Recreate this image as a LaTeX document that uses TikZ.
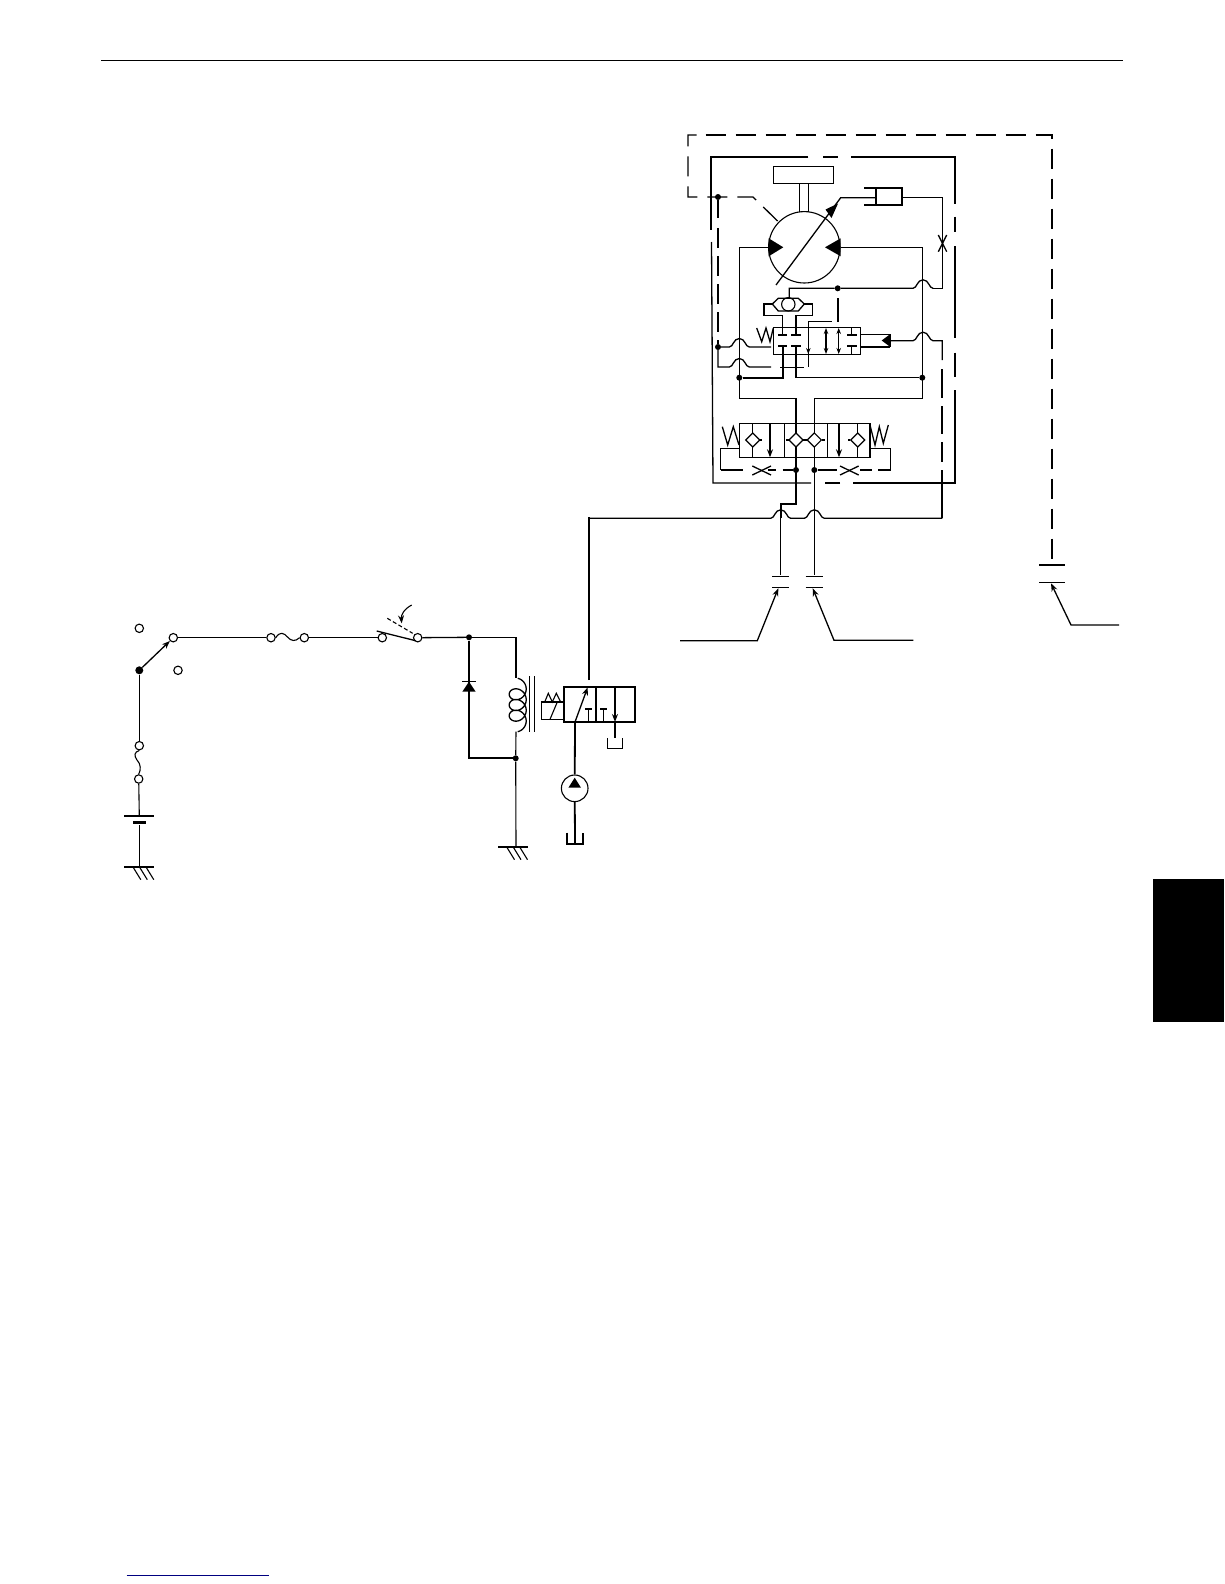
\documentclass[tikz,border=0pt]{standalone}
\usepackage{xcolor}
\definecolor{linkblue}{RGB}{0,0,128}
\usetikzlibrary{arrows.meta}
\usetikzlibrary{shapes.geometric}
\tikzset{
  thinw/.style={line width=1.1pt},
  medw/.style={line width=1.3pt},
  thickw/.style={line width=1.8pt},
  longdash/.style={line width=1.3pt, dash pattern=on 20pt off 10pt},
  term/.style={circle, draw, line width=1.1pt, fill=white, inner sep=0pt, minimum size=8.4pt},
  junc/.style={circle, fill=black, inner sep=0pt, minimum size=6pt},
  chk/.style={diamond, draw, line width=1.2pt, fill=white, inner sep=0pt, minimum size=14.6pt},
  tip/.style={-{Stealth[length=8pt,width=6pt]}},
  bothtip/.style={{Stealth[length=6pt,width=4.5pt]}-{Stealth[length=6pt,width=4.5pt]}}
}
\newcommand{\hopat}[2]{-- (#1-10,#2) .. controls (#1-6,#2) and (#1-6,#2-8.5) .. (#1,#2-8.5) .. controls (#1+6,#2-8.5) and (#1+6,#2) .. (#1+10,#2)}
\newcommand{\groundat}[2]{%
  \draw [thickw] (#1-15,#2) -- (#1+15,#2);
  \draw [thinw] (#1-6.5,#2) -- (#1+1.5,#2+13);
  \draw [thinw] (#1,#2) -- (#1+8,#2+13);
  \draw [thinw] (#1+6.5,#2) -- (#1+14.5,#2+13);
}

\begin{document}
\begin{tikzpicture}[x=1pt, y=-1pt]
  \useasboundingbox (0,0) rectangle (1224,1584);

  \draw [thinw] (101,60.6) -- (1123,60.6);
  \fill (1153,879) rectangle (1224,1022);
  \draw [linkblue, line width=1pt] (126.7,1575) -- (269,1575);

  \draw [longdash] (705.7,135) -- (1052,135) -- (1052,560);
  \draw [longdash] (696.7,135) -- (688,135) -- (688,197) -- (753,197) -- (778.3,221.7);

  \draw [thickw] (808.3,157.3) -- (711,157.3) -- (711,230);
  \draw [thickw] (823,157.3) -- (838,157.3);
  \draw [thickw] (851,157.3) -- (955,157.3) -- (955,203.7);
  \draw [thickw] (955,216.7) -- (955,232);
  \draw [thickw] (955,246) -- (955,338);
  \draw [thickw] (955,352.7) -- (955,376.5);
  \draw [thickw] (955,390.3) -- (955,483) -- (853,483);
  \draw [thickw] (840,483) -- (825,483);
  \draw [medw] (811,483) -- (713,483) -- (711.5,242);

  \node [junc] (jtop) at (718,197) {};
  \node [junc] (jleft) at (718,347) {};
  \draw [thickw] (jtop) -- (718,218);
  \draw [thickw, dash pattern=on 20pt off 8pt] (718,228) -- (jleft);
  \draw [medw] (jleft) -- (718,367) \hopat{739.3}{367} -- (771,367);
  \draw [medw] (jleft) \hopat{739.3}{347} -- (771,347);

  \draw [thinw] (773.3,166.3) rectangle (833.3,183.3);
  \draw [thinw] (799.3,183.3) -- (799.3,211.7);
  \draw [thinw] (808.7,183.3) -- (808.7,211.7);
  \node [circle, draw, line width=1.1pt, minimum size=71.4pt, inner sep=0pt] (motor) at (804.3,247.3) {};
  \fill (768.7,238.3) -- (783.3,247.3) -- (768.7,256.3) -- cycle;
  \fill (840.7,238.3) -- (825,247.3) -- (840.7,256.3) -- cycle;
  \draw [medw] (776,285) -- (840.7,197.7) -- (875.7,197.7);
  \fill (838,203.5) -- (825.5,209.5) -- (831.5,218) -- cycle;

  \draw [thickw] (875.7,187.7) rectangle (902.3,205);
  \draw [thickw] (864.3,187.7) -- (875.7,187.7);
  \draw [thickw] (864.3,205) -- (875.7,205);
  \node [junc] (jpilot) at (837.7,288.3) {};
  \draw [medw] (902.3,197.7) -- (942.3,197.7) -- (942.3,288.3) -- (933,288.3);
  \draw [medw] (938.3,235) -- (946.7,251.7);
  \draw [medw] (946.7,235) -- (938.3,251.7);
  \draw [medw] (789.3,298.3) -- (789.3,288.3) -- (jpilot) \hopat{923}{288.3};

  \draw [thinw] (739.3,247.3) -- (768.7,247.3);
  \draw [thinw] (840.7,247.3) -- (922.3,247.3) -- (922.3,398.3) -- (814.3,398.3) -- (814.3,423.3);
  \draw [thinw] (739.3,247.3) -- (739.3,398.3) -- (796,398.3);
  \draw [thickw] (796,398.3) -- (796,423.3);

  \draw [medw, fill=white] (772.3,304) -- (778.3,298.3) -- (798.3,298.3) -- (804.3,304) -- (798.3,311) -- (778.3,311) -- cycle;
  \node [circle, draw, line width=1.1pt, inner sep=0pt, minimum size=13.4pt] (shuttle) at (788.3,304.3) {};
  \draw [medw] (772.3,304) -- (764,304) -- (764,315.7) -- (782.7,315.7) -- (782.7,335);
  \draw [medw] (804.3,304) -- (812.3,304) -- (812.3,315.7) -- (796,315.7) -- (796,335);

  \draw [medw] (773.3,327.7) rectangle (860.7,354.3);
  \draw [medw] (756.7,328) -- (761.7,341.7) -- (766,328) -- (770,341.7) -- (773.3,328);
  \draw [thickw] (778.3,335) -- (786.7,335);
  \draw [thickw] (791,335) -- (800.7,335);
  \draw [thickw] (778.3,345.7) -- (786.7,345.7);
  \draw [thickw] (791,345.7) -- (800.7,345.7);
  \node [junc] (jl) at (739.3,377.7) {};
  \node [junc] (jr) at (922.3,377.7) {};
  \draw [thickw] (jl) -- (782.7,377.7) -- (782.7,345.7);
  \draw [medw] (jr) -- (796,377.7) -- (796,345.7);
  \draw [thinw] (780,367.3) -- (804,367.3);
  \draw [medw] (838,298.3) -- (838,321.7);
  \draw [medw] (831.7,321.7) -- (808.3,321.7) -- (808.3,366.7);
  \draw [-{Stealth[length=6pt,width=4.5pt]}, thinw] (808.3,330) -- (808.3,354);
  \draw [bothtip, thinw] (826,328) -- (826,354);
  \draw [bothtip, thinw] (838.7,328) -- (838.7,354);
  \draw [thickw] (847.3,335) -- (856.7,335);
  \draw [thinw] (851.7,328) -- (851.7,335);
  \draw [thickw] (847.3,345.7) -- (856.7,345.7);
  \draw [thinw] (851.7,345.7) -- (851.7,354);

  \draw [medw] (860.7,334.3) -- (890,334.3) -- (890,346.7);
  \draw [thickw] (860.7,346.7) -- (890,346.7);
  \fill (881.7,340.5) -- (890,334.3) -- (890,346.7) -- cycle;
  \draw [medw] (890,340.7) \hopat{923}{340.7} -- (942.3,340.7) -- (942.3,360);
  \draw [thickw] (942.3,369) -- (942.3,398);
  \draw [thickw] (942.3,406) -- (942.3,434);
  \draw [thickw] (942.3,442) -- (942.3,462);
  \draw [thickw] (942.3,470) -- (942.3,518.3);

  \draw [medw] (739.3,423.3) rectangle (870,457.3);
  \draw [medw] (784.3,423.3) -- (784.3,457.3);
  \draw [medw] (827.7,423.3) -- (827.7,457.3);
  \draw [medw] (722.3,426.7) -- (727.7,445) -- (733.3,426.7) -- (739,445);
  \draw [medw] (870,425) -- (875,445) -- (879.3,426.7) -- (883.3,443.3) -- (888.3,425);
  \draw [medw] (752.7,423.3) -- (752.7,457.3);
  \draw [medw] (857.7,423.3) -- (857.7,457.3);
  \draw [tip, medw] (770,423.3) -- (770,457.3);
  \draw [tip, medw] (839,423.3) -- (839,457.3);
  \draw [thickw] (796,423.3) -- (796,504) -- (780.7,504) -- (780.7,518.3);
  \draw [thinw] (814.3,423.3) -- (814.3,510);
  \draw [medw] (760,440) -- (762,440);
  \draw [medw] (850.4,440) -- (848,440);
  \draw [medw] (803.3,440) -- (807,440);
  \draw [medw] (788.7,440) -- (786,440);
  \draw [medw] (821.6,440) -- (824.5,440);
  \node [chk] (chk1) at (752.7,440) {};
  \node [chk] (chk2) at (796,440) {};
  \node [chk] (chk3) at (814.3,440) {};
  \node [chk] (chk4) at (857.7,440) {};

  \node [junc] (jcl) at (796,470) {};
  \node [junc] (jcr) at (814.3,470) {};
  \draw [medw] (739.3,448.3) -- (720.7,448.3) -- (720.7,470);
  \draw [thickw] (720.7,470) -- (742.7,470);
  \draw [thickw] (768.3,470) -- (776,470);
  \draw [thickw] (782.7,470) -- (jcl);
  \draw [thickw] (jcr) -- (836.7,470);
  \draw [thickw] (860,470) -- (871.7,470);
  \draw [thickw] (878.3,470) -- (890.7,470);
  \draw [medw] (890.7,470) -- (890.7,448.3) -- (870,448.3);
  \draw [medw] (752.3,466) -- (771,475);
  \draw [medw] (752.3,475) -- (771,466);
  \draw [medw] (840,466) -- (858.7,475);
  \draw [medw] (840,475) -- (858.7,466);

  \draw [thinw] (780.7,518.3) -- (780.7,575);
  \draw [thinw] (814.3,510) -- (814.3,575);
  \draw [thickw] (589,680) -- (589,518.3) -- (589.5,518.3);
  \draw [medw] (589,518.3) \hopat{780.7}{518.3} \hopat{814.3}{518.3} -- (942.3,518.3);
  \draw [thinw] (772,576.3) -- (789,576.3);
  \draw [thinw] (772,587.3) -- (789,587.3);
  \draw [thinw] (805.7,576.3) -- (823.3,576.3);
  \draw [thinw] (805.7,587.3) -- (823.3,587.3);
  \draw [thickw] (1039,565) -- (1065,565);
  \draw [thinw] (1039,582.3) -- (1065,582.3);
  \draw [tip, medw] (680,640.7) -- (757.3,640.7) -- (778.3,588.3);
  \draw [tip, medw] (913.3,640.3) -- (834,640.3) -- (812.7,588.3);
  \draw [tip, medw] (1119,625) -- (1071,625) -- (1051,583.3);

  \node [term] (key0) at (139.3,628.3) {};
  \node [term] (key1) at (173.3,637.7) {};
  \node [term] (key2) at (178,670.3) {};
  \node [junc, minimum size=8pt] (keyc) at (139.3,670.3) {};
  \node [term] (fusea) at (271,637.7) {};
  \node [term] (fuseb) at (304.3,637.7) {};
  \node [term] (swa) at (382.3,637.7) {};
  \node [term] (swb) at (417.7,637.7) {};
  \node [term] (fusec) at (139.3,745.7) {};
  \node [term] (fused) at (138.7,779) {};
  \draw [tip, medw] (keyc) -- (key1);
  \draw [thinw] (keyc) -- (fusec);
  \draw [thinw] (fusec.south) .. controls (134,752) and (134,756) .. (137,760) .. controls (141,764) and (141,770) .. (fused.north);
  \draw [thinw] (fused) -- (139.3,816);
  \draw [thinw] (124,816) -- (154,816);
  \draw [line width=2.5pt] (133.3,822.3) -- (146,822.3);
  \draw [thinw] (139.3,825) -- (139.3,866.7);
  \groundat{139.3}{866.7}
  \draw [thinw] (key1) -- (fusea);
  \draw [thinw] (fusea.east) .. controls (280,631) and (284,633) .. (287.5,637) .. controls (291,641) and (295,642) .. (fuseb.west);
  \draw [thinw] (fuseb) -- (swa);
  \draw [medw] (376.7,631) -- (415.7,640.7);
  \draw [thinw, dash pattern=on 4pt off 2.5pt] (387.3,618.3) -- (412.7,633.3);
  \draw [tip, thinw] (411.7,605) .. controls (404,609) and (401,615) .. (401.7,623.3);

  \node [junc] (jcoil) at (469,637.3) {};
  \node [junc] (jgnd) at (515.7,758.3) {};
  \draw [medw] (swb) -- (jcoil);
  \draw [thinw] (jcoil) -- (516,637.3) -- (516,678.3);
  \draw [thickw] (jcoil) -- (469,758.3) -- (jgnd);
  \fill (469,681.7) -- (462.3,691.7) -- (475.7,691.7) -- cycle;
  \draw [medw] (462.3,681.7) -- (475.7,681.7);
  \draw [medw] plot [smooth, domain=0:1260, samples=120] ({517.7+8.5*sin(\x)}, {686.3+0.02965*\x-8*cos(\x)});
  \draw [thinw] (516,731.7) -- (jgnd) -- (516,846.7);
  \groundat{513}{846.7}
  \draw [thinw] (529.3,676) -- (529.3,731.7);
  \draw [thinw] (534.3,676) -- (534.3,731.7);

  \draw [thickw] (564.3,686.7) rectangle (635.3,722);
  \draw [thickw] (596,686.7) -- (596,722);
  \draw [medw] (541.3,702) rectangle (564.3,719.3);
  \draw [thinw] (550,719.3) -- (557.3,702);
  \draw [thinw] (544.7,702) -- (548.3,693.3) -- (552.3,702) -- (556.3,693.3) -- (560.7,702);
  \draw [tip, medw] (575,722) -- (587.7,687.3);
  \draw [thickw] (585.3,709) -- (592.3,709);
  \draw [thinw] (588.3,709) -- (588.3,722);
  \draw [thickw] (600,709) -- (607,709);
  \draw [thinw] (603.3,709) -- (603.3,722);
  \draw [tip, medw] (615,686.7) -- (615,722);
  \draw [thinw] (615,722) -- (615,738.3);
  \draw [thinw] (607.7,738.3) -- (607.7,748.3) -- (622.7,748.3) -- (622.7,738.3);

  \node [circle, draw, line width=1.1pt, inner sep=0pt, minimum size=26.6pt] (pump) at (574.7,788.3) {};
  \fill (574.7,777.7) -- (568.4,787.7) -- (581,787.7) -- cycle;
  \draw [thickw] (575,722) -- (pump);
  \draw [thickw] (pump) -- (575,843.3);
  \draw [thickw] (566.7,832.7) -- (566.7,844.3) -- (583.3,844.3) -- (583.3,832.7);
\end{tikzpicture}
\end{document}
